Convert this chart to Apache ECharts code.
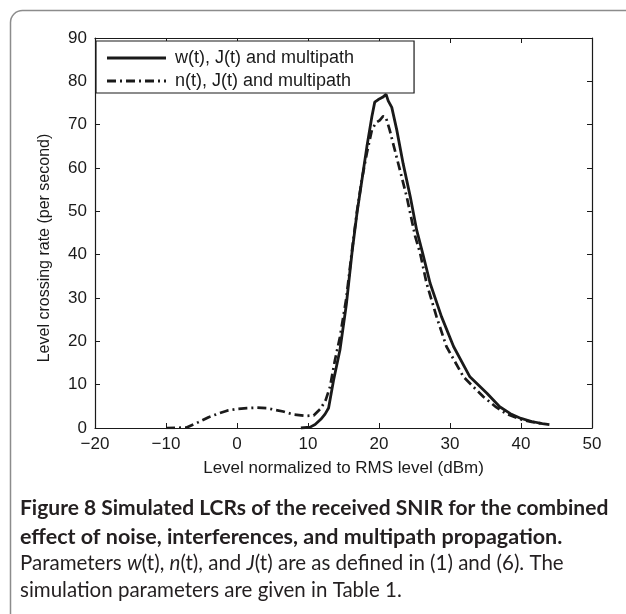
<!DOCTYPE html>
<html>
<head>
<meta charset="utf-8">
<script src="https://cdn.jsdelivr.net/npm/echarts@6/dist/echarts.min.js"></script>
<style>
html,body{margin:0;padding:0;background:#fff;}
#chart{width:626px;height:614px;}
</style>
</head>
<body>
<div id="chart"></div>
<script>
// ---- data ----
const seriesNames = ['w(t), J(t) and multipath', 'n(t), J(t) and multipath'];
const wX = [9, 10.3, 11, 11.8, 12.4, 12.9, 13.6, 14.5, 15.4, 16.2, 16.9, 17.6, 18.3, 19.0, 19.4, 19.9, 20.5, 21.0, 21.3, 21.8, 22.5, 23.4, 24.4, 25.3, 26.2, 27.2, 28.8, 30.5, 32.8, 35.2, 37, 38.5, 40, 41.5, 43, 44];
const wY = [0, 0.2, 0.8, 2, 3.2, 4.6, 11, 18, 28.5, 40.5, 49.6, 57.3, 65, 71.9, 75.2, 75.8, 76.3, 77, 75.5, 74, 68.8, 61, 53.4, 45.7, 40, 33.4, 25.7, 18.8, 11.8, 8, 4.9, 3.3, 2.2, 1.5, 1, 0.8];
const nX = [-10, -7.1, -5.5, -4, -2.5, -1.4, 0, 1.4, 2.8, 4.2, 5.3, 6.5, 8, 9.8, 10.8, 11.8, 12.5, 13.1, 13.8, 14.5, 15.4, 16.2, 16.9, 17.6, 18.3, 19.0, 19.6, 20.1, 20.6, 21.0, 21.5, 22.7, 23.9, 25.1, 25.8, 26.7, 28.1, 29.5, 31.9, 34.7, 36.5, 38, 40, 41.5, 43];
const nY = [0, 0.1, 1.3, 2.5, 3.4, 4, 4.4, 4.6, 4.7, 4.6, 4.2, 3.8, 3.1, 2.8, 2.9, 4.5, 6.5, 9.5, 15.7, 21, 30, 41, 50, 57.5, 63.5, 68.8, 70.5, 71, 72, 71.5, 68.8, 61.1, 53.4, 44.2, 40.3, 33.4, 25.7, 18.8, 11.8, 7.2, 4.8, 3.2, 2, 1.4, 1];
const xTicks = {min: -20, max: 50, interval: 10};
const yTicks = {min: 0, max: 90, interval: 10};
const xName = 'Level normalized to RMS level (dBm)';
const yName = 'Level crossing rate (per second)';
const captionLines = [
  'Figure 8 Simulated LCRs of the received SNIR for the combined',
  'effect of noise, interferences, and multipath propagation.',
  'Parameters {i|w}(t), {i|n}(t), and {i|J}(t) are as defined in (1) and (6). The',
  'simulation parameters are given in Table 1.'
];

const zip = (a, b) => a.map((v, i) => [v, b[i]]);
const ink = '#1a1a1a';
const axisFont = 'Liberation Sans';
const minusFmt = v => String(v).replace('-', '\u2212');
// legend glyphs (solid bar, dash-dot bar)
const solidIcon = 'path://M0,0H59V3H0Z';
const dashDotIcon = 'path://M0,0H9V3H0Z M13,0H15V3H13Z M19,0H28V3H19Z M32,0H34V3H32Z M38,0H47V3H38Z M51,0H53V3H51Z M57,0H59V3H57Z';

const chart = echarts.init(document.getElementById('chart'), null, {renderer: 'canvas'});
const baseX = {type: 'value', min: xTicks.min, max: xTicks.max, interval: xTicks.interval,
  axisLine: {show: true, onZero: false, lineStyle: {color: ink, width: 1.2}},
  axisTick: {show: true, inside: true, length: 5, lineStyle: {color: ink}},
  splitLine: {show: false}};
const baseY = {type: 'value', min: yTicks.min, max: yTicks.max, interval: yTicks.interval,
  axisLine: {show: true, onZero: false, lineStyle: {color: ink, width: 1.2}},
  axisTick: {show: true, inside: true, length: 5, lineStyle: {color: ink}},
  splitLine: {show: false}};

const option = {
  backgroundColor: '#fff',
  animation: false,
  grid: {left: 95, right: 34, top: 38, bottom: 186, containLabel: false},
  xAxis: [
    Object.assign({}, baseX, {position: 'bottom',
      name: xName, nameLocation: 'middle', nameGap: 32,
      nameTextStyle: {fontFamily: axisFont, fontSize: 17, color: ink},
      axisLabel: {fontFamily: axisFont, fontSize: 17, color: ink, margin: 8, formatter: minusFmt}}),
    Object.assign({}, baseX, {position: 'top', axisLabel: {show: false}})
  ],
  yAxis: [
    Object.assign({}, baseY, {position: 'left',
      name: yName, nameLocation: 'middle', nameGap: 42,
      nameTextStyle: {fontFamily: axisFont, fontSize: 16, color: ink, padding: [0, 30, 0, 0]},
      axisLabel: {fontFamily: axisFont, fontSize: 17, color: ink, margin: 8, formatter: minusFmt}}),
    Object.assign({}, baseY, {position: 'right', axisLabel: {show: false}})
  ],
  legend: {
    show: true, orient: 'vertical', left: 96, top: 41,
    data: [{name: seriesNames[0], icon: solidIcon}, {name: seriesNames[1], icon: dashDotIcon}],
    itemWidth: 59, itemHeight: 3, itemGap: 5,
    padding: [8, 60, 3, 11],
    borderColor: ink, borderWidth: 1.2, backgroundColor: '#fff',
    textStyle: {fontFamily: axisFont, fontSize: 18, color: ink, padding: [0, 0, 0, 4]},
    selectedMode: false
  },
  series: [
    {name: seriesNames[0], type: 'line', xAxisIndex: 0, yAxisIndex: 0,
     data: zip(wX, wY), showSymbol: false, symbol: 'none', smooth: false,
     lineStyle: {color: ink, width: 2.8, type: 'solid'}, itemStyle: {color: ink}},
    {name: seriesNames[1], type: 'line', xAxisIndex: 0, yAxisIndex: 0,
     data: zip(nX, nY), showSymbol: false, symbol: 'none', smooth: false,
     lineStyle: {color: ink, width: 2.7, type: [9, 4, 2, 4]}, itemStyle: {color: ink}}
  ],
  graphic: [
    {type: 'rect', left: 8, top: 8, z: -1, silent: true,
     shape: {x: 0, y: 0, width: 800, height: 800, r: 12},
     style: {fill: 'none', stroke: '#8c8c8c', lineWidth: 1.5}},
    {type: 'text', left: 20, top: 498, style: {text: captionLines[0], font: 'bold 21px Lato', fill: '#231f20'}},
    {type: 'text', left: 20, top: 526, style: {text: captionLines[1], font: 'bold 21.5px Lato', fill: '#231f20'}},
    {type: 'text', left: 20, top: 553, style: {text: captionLines[2], font: '20.5px Lato', fill: '#231f20',
      rich: {i: {fontStyle: 'italic', fontFamily: 'Lato', fontSize: 20.5, fill: '#231f20'}}}},
    {type: 'text', left: 20, top: 580, style: {text: captionLines[3], font: '20.5px Lato', fill: '#231f20'}}
  ]
};
chart.setOption(option);
</script>
</body>
</html>
